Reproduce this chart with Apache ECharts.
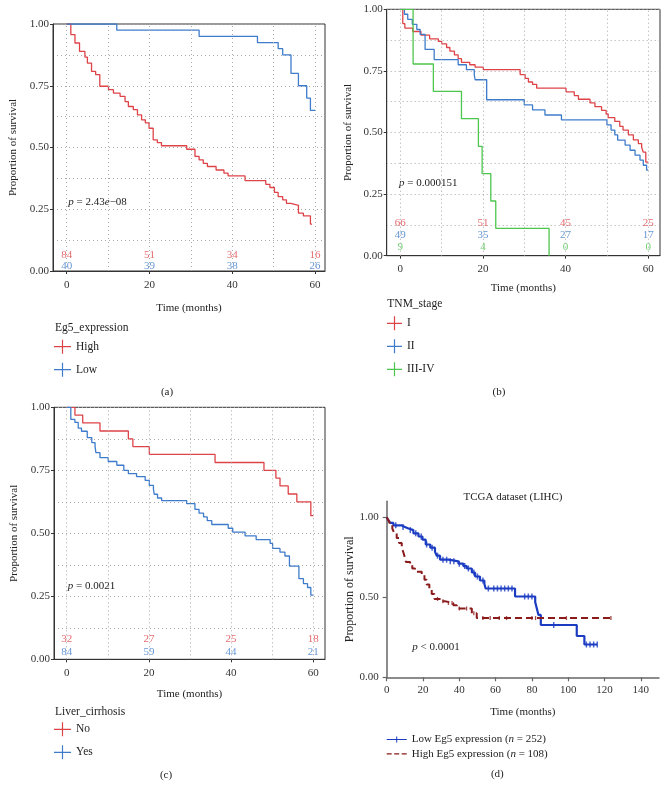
<!DOCTYPE html>
<html>
<head>
<meta charset="utf-8">
<script src="https://cdn.jsdelivr.net/npm/echarts@6/dist/echarts.min.js"></script>
<style>
html, body { margin: 0; padding: 0; background: #fff; }
#main { width: 669px; height: 796px; }
</style>
</head>
<body>
<div id="main"></div>
<script>
var FONT = '"Liberation Serif", "DejaVu Serif", serif';
var RED = '#de4348', BLUE = '#3e7ccb', GREEN = '#4cc64c';
var DRED = '#8b1a1a', DBLUE = '#1b3cc2';
var TXT = '#222';

// (a) Eg5 expression, [months, survival]
var aHigh = [[0,1],[1,0.957],[2,0.923],[3.1,0.889],[4.4,0.866],[5,0.842],[6,0.808],[7,0.795],[8,0.748],[10.1,0.734],[11.3,0.72],[12.9,0.707],[14.1,0.686],[14.9,0.666],[16.1,0.653],[17.1,0.632],[18.1,0.612],[19,0.6],[19.9,0.578],[20.9,0.531],[21.9,0.52],[22.9,0.507],[29,0.493],[31,0.464],[32,0.45],[33,0.436],[34,0.423],[36.1,0.409],[38,0.396],[39,0.385],[43.1,0.366],[48.1,0.351],[49.1,0.338],[50.2,0.318],[51.1,0.301],[52.2,0.288],[53.1,0.274],[54.2,0.266],[56,0.234],[57.2,0.223],[58.9,0.19],[59.3,0.19]];
var aLow = [[0,1],[12.1,0.975],[32,0.95],[46.1,0.925],[51.1,0.9],[52.2,0.875],[54.2,0.8],[56,0.75],[58,0.7],[58.9,0.65],[60,0.65]];
var aRiskHigh = [84, 51, 34, 16];
var aRiskLow = [40, 39, 38, 26];

// (b) TNM stage
var bI = [[0,1],[0.6,0.942],[1.1,0.924],[3,0.91],[5,0.895],[7.1,0.88],[9.2,0.87],[10,0.86],[11.2,0.845],[12,0.83],[13.1,0.815],[14,0.8],[14.8,0.785],[16.8,0.775],[18.1,0.765],[20.1,0.755],[29,0.735],[30.2,0.72],[31,0.705],[32,0.695],[33,0.68],[40.1,0.665],[42.1,0.65],[43.1,0.635],[45.9,0.62],[47.1,0.605],[48.7,0.59],[49.8,0.575],[50.3,0.56],[51.9,0.545],[53.1,0.525],[53.9,0.51],[55.2,0.49],[56.4,0.47],[57.6,0.455],[58.4,0.44],[58.8,0.42],[59.4,0.38],[60,0.38]];
var bII = [[0,1],[1,0.98],[1.8,0.959],[2.9,0.939],[4,0.918],[4.8,0.898],[6,0.837],[8.2,0.796],[14,0.775],[16,0.755],[17.9,0.735],[18.1,0.714],[20.9,0.633],[30,0.612],[32,0.592],[35,0.571],[39,0.551],[50,0.531],[51,0.51],[51.9,0.49],[52.6,0.469],[54.4,0.449],[55.6,0.428],[56.8,0.408],[58,0.388],[58.8,0.367],[59.6,0.347],[60,0.347]];
var bIII = [[0,1],[3.1,0.778],[8,0.667],[14.8,0.556],[18.9,0.444],[19.8,0.333],[21.9,0.222],[23.1,0.111],[36,0]];
var bRiskI = [66, 51, 45, 25];
var bRiskII = [49, 35, 27, 17];
var bRiskIII = [9, 4, 0, 0];

// (c) Liver cirrhosis
var cNo = [[0,1],[2,0.969],[3.9,0.938],[8.1,0.906],[15,0.875],[16.1,0.844],[20.1,0.813],[36.1,0.781],[48,0.75],[50.9,0.719],[51.9,0.688],[53.9,0.656],[56,0.625],[59.4,0.57],[60,0.57]];
var cYes = [[0,1],[1,0.952],[2,0.94],[2.8,0.917],[3.6,0.905],[5,0.88],[6.1,0.86],[6.9,0.845],[7.1,0.82],[8.1,0.8],[10.1,0.785],[12.2,0.77],[13.9,0.75],[15,0.737],[17,0.725],[19.1,0.71],[20.1,0.69],[21.1,0.675],[21.3,0.655],[22.1,0.64],[23.1,0.63],[29.2,0.618],[31.2,0.595],[32.2,0.58],[33.3,0.565],[34.2,0.55],[35.3,0.535],[39.3,0.52],[40.4,0.505],[43.4,0.49],[46.1,0.475],[49.5,0.46],[50.1,0.44],[51.9,0.425],[53.1,0.41],[54.2,0.37],[56.5,0.32],[57.6,0.3],[58.6,0.285],[59.4,0.255],[60,0.255]];
var cRiskNo = [32, 27, 25, 18];
var cRiskYes = [84, 59, 44, 21];

// (d) TCGA LIHC
var dLow = [[0,1],[1,0.98],[2,0.965],[3.7,0.95],[8,0.94],[10,0.93],[12,0.92],[14.7,0.9],[17.5,0.88],[19.7,0.86],[21.5,0.83],[24,0.81],[26.6,0.785],[27.5,0.76],[29.4,0.735],[34,0.725],[39.5,0.71],[42.2,0.695],[44.1,0.68],[46.9,0.655],[48.7,0.63],[51.4,0.605],[53.8,0.585],[54.5,0.555],[70.7,0.505],[81.8,0.47],[82.7,0.43],[83.6,0.39],[84.9,0.327],[104.7,0.258],[108.9,0.205],[116,0.205]];
var dHigh = [[0,1],[1,0.98],[1.8,0.96],[3.1,0.93],[4.2,0.9],[5.5,0.87],[6.8,0.84],[8.3,0.81],[9.2,0.78],[10,0.75],[10.6,0.72],[12.9,0.7],[14.1,0.68],[15.6,0.66],[19.3,0.64],[20.8,0.61],[22,0.58],[23.5,0.55],[24.8,0.52],[26.3,0.49],[29.4,0.475],[32,0.465],[36.7,0.45],[38.6,0.43],[46.9,0.4],[49.6,0.37],[123.5,0.37]];
var dLowCensor = [5,9,13,16,19,22,25,28,31,33,35,37,40,43,45,48,50,53,56,59,61,63,65,67,69,76,78,80,92,110,112,114,116];
var dHighCensor = [28,31,34,36,40,44,48,53,57,62,66,80,82,99,123.5];

var riskTimes = [0, 20, 40, 60];
var kmTicks = [0, 20, 40, 60];
var gridX = [0, 10, 20, 30, 40, 50, 60];
var dXTicks = [0, 20, 40, 60, 80, 100, 120, 140];
var dYTicks = [0, 0.5, 1];

function stepAt(curve, t) {
    var s = curve[0][1];
    for (var i = 0; i < curve.length; i++) if (curve[i][0] <= t) s = curve[i][1];
    return s;
}

function km(name, data, color, idx, extra) {
    var s = {
        name: name, type: 'line', step: 'end', data: data,
        xAxisIndex: idx, yAxisIndex: idx, symbol: 'none',
        lineStyle: { color: color, width: 1.3 }, itemStyle: { color: color },
        emphasis: { disabled: true }, z: 3
    };
    for (var k in extra) s[k] = extra[k];
    return s;
}

function risk(counts, yPos, color, idx) {
    return {
        type: 'scatter', xAxisIndex: idx, yAxisIndex: idx, symbolSize: 0, silent: true,
        data: riskTimes.map(function (t, i) { return [t, yPos, counts[i]]; }),
        label: { show: true, position: 'inside', formatter: function (p) { return p.value[2]; },
                 color: color, fontFamily: FONT, fontSize: 11 },
        z: 4
    };
}

function gridLines(idx) {
    return {
        type: 'line', xAxisIndex: idx, yAxisIndex: idx, data: [], silent: true, z: 1,
        markLine: { silent: true, symbol: 'none', label: { show: false }, animation: false,
                    lineStyle: { color: '#a8a8a8', type: [1, 3], width: 1 },
                    data: gridX.map(function (v) { return { xAxis: v }; }) }
    };
}

function censor(times, curve, color, idx, size) {
    return {
        type: 'scatter', xAxisIndex: idx, yAxisIndex: idx, symbol: 'rect', symbolSize: size,
        silent: true, itemStyle: { color: color }, z: 4,
        data: times.map(function (t) { return [t, stepAt(curve, t)]; })
    };
}

var axisText = { fontFamily: FONT, fontSize: 11, color: TXT };

function kmX(idx, min, max, gap, margin) {
    return {
        gridIndex: idx, type: 'value', min: min, max: max,
        name: 'Time (months)', nameLocation: 'middle', nameGap: gap, nameTextStyle: axisText,
        axisLine: { show: true, onZero: false, lineStyle: { color: '#333' } },
        axisTick: { show: true, length: 3, customValues: kmTicks, lineStyle: { color: '#333' } },
        axisLabel: { customValues: kmTicks, margin: margin, fontFamily: FONT, fontSize: 11, color: '#333' },
        splitLine: { show: false }
    };
}

function kmY(idx, gap) {
    return {
        gridIndex: idx, type: 'value', min: 0, max: 1, interval: 0.25,
        name: 'Proportion of survival', nameLocation: 'middle', nameGap: gap, nameRotate: 90,
        nameTextStyle: axisText,
        axisLine: { show: true, onZero: false, lineStyle: { color: '#333' } },
        axisTick: { show: true, length: 3, lineStyle: { color: '#333' } },
        axisLabel: { formatter: function (v) { return v.toFixed(2); }, margin: 4,
                     fontFamily: FONT, fontSize: 11, color: '#333' },
        splitLine: { show: true, lineStyle: { color: '#a8a8a8', type: [1, 3] } },
        minorTick: { show: false, splitNumber: 2 },
        minorSplitLine: { show: true, lineStyle: { color: '#a8a8a8', type: [1, 3] } }
    };
}

var CROSS = 'path://M0,6.4h17v1.2h-17z M7.9,0h1.2v14h-1.2z';
var CROSS_B = 'path://M0,6.4h15v1.2h-15z M6.9,0h1.2v14h-1.2z';

function kmLegend(names, left, top, icon, w) {
    return {
        data: names, left: left, top: top, orient: 'vertical', padding: 0,
        itemWidth: w, itemHeight: 14, itemGap: 9, icon: icon, selectedMode: false,
        textStyle: { fontFamily: FONT, fontSize: 11.5, color: TXT }
    };
}

function txt(x, y, text, align, extra) {
    var style = { x: 0, y: 0, text: text, fill: TXT, fontFamily: FONT, fontSize: 11,
                  align: align || 'left', verticalAlign: 'middle',
                  rich: { i: { fontStyle: 'italic', fontFamily: FONT, fontSize: 11, fill: TXT } } };
    for (var k in extra) style[k] = extra[k];
    return { type: 'text', x: x, y: y, silent: true, style: style };
}

var chart = echarts.init(document.getElementById('main'));

var option = {
    animation: false,
    backgroundColor: '#fff',
    grid: [
        { left: 53, top: 24, width: 272, height: 247, show: true, borderColor: '#333', borderWidth: 1 },
        { left: 386.7, top: 9.3, width: 273.3, height: 246.4, show: true, borderColor: '#333', borderWidth: 1 },
        { left: 54, top: 407.3, width: 271, height: 252, show: true, borderColor: '#333', borderWidth: 1 },
        { left: 386.7, top: 501.3, width: 272.3, height: 176 }
    ],
    xAxis: [
        kmX(0, -3.31, 62.42, 32, 9),
        kmX(1, -3.29, 62.84, 27, 8),
        kmX(2, -3.09, 62.85, 29, 8),
        {
            gridIndex: 3, type: 'value', min: 0, max: 150,
            name: 'Time (months)', nameLocation: 'middle', nameGap: 29, nameTextStyle: axisText,
            axisLine: { show: true, onZero: false, lineStyle: { color: '#666', width: 1.5 } },
            axisTick: { show: true, length: 4, customValues: dXTicks, lineStyle: { color: '#666', width: 1.2 } },
            axisLabel: { customValues: dXTicks, margin: 7, fontFamily: FONT, fontSize: 11, color: '#333' },
            splitLine: { show: false }
        }
    ],
    yAxis: [
        kmY(0, 34),
        kmY(1, 33),
        kmY(2, 34),
        {
            gridIndex: 3, type: 'value', min: 0, max: 1.1,
            name: 'Proportion of survival', nameLocation: 'middle', nameGap: 31, nameRotate: 90,
            nameTextStyle: { fontFamily: FONT, fontSize: 12, color: TXT },
            axisLine: { show: true, onZero: false, lineStyle: { color: '#666', width: 1.5 } },
            axisTick: { show: true, length: 4, customValues: dYTicks, lineStyle: { color: '#666', width: 1.2 } },
            axisLabel: { customValues: dYTicks, formatter: function (v) { return v.toFixed(2); },
                         margin: 8, fontFamily: FONT, fontSize: 11, color: '#333' },
            splitLine: { show: false }
        }
    ],
    legend: [
        kmLegend(['High', 'Low'], 54, 339.7, CROSS, 17),
        kmLegend(['I', 'II', 'III-IV'], 387, 316.3, CROSS_B, 15),
        kmLegend(['No', 'Yes'], 54, 722.3, CROSS, 17),
        {
            data: [
                { name: 'Low Eg5 expression (n = 252)', icon: 'path://M0,4.5h20v1h-20z M9.5,2h1v6h-1z' },
                { name: 'High Eg5 expression (n = 108)', icon: 'path://M0,4.5h5v1.2h-5z M7.5,4.5h5v1.2h-5z M15,4.5h5v1.2h-5z' }
            ],
            left: 386.7, top: 734, orient: 'vertical', padding: 0, itemWidth: 20, itemHeight: 10, itemGap: 3.3,
            selectedMode: false,
            formatter: function (name) { return name.replace('(n', '({i|n}'); },
            textStyle: { fontFamily: FONT, fontSize: 11, color: TXT,
                         rich: { i: { fontStyle: 'italic', fontFamily: FONT, fontSize: 11, color: TXT } } }
        }
    ],
    series: [
        gridLines(0), gridLines(1), gridLines(2),
        km('High', aHigh, RED, 0),
        km('Low', aLow, BLUE, 0),
        risk(aRiskHigh, 0.064, RED, 0),
        risk(aRiskLow, 0.0215, BLUE, 0),

        km('I', bI, RED, 1),
        km('II', bII, BLUE, 1),
        km('III-IV', bIII, GREEN, 1),
        risk(bRiskI, 0.134, RED, 1),
        risk(bRiskII, 0.084, BLUE, 1),
        risk(bRiskIII, 0.034, GREEN, 1),

        km('No', cNo, RED, 2),
        km('Yes', cYes, BLUE, 2),
        risk(cRiskNo, 0.079, RED, 2),
        risk(cRiskYes, 0.028, BLUE, 2),

        km('Low Eg5 expression (n = 252)', dLow, DBLUE, 3, { lineStyle: { color: DBLUE, width: 2.2 } }),
        km('High Eg5 expression (n = 108)', dHigh, DRED, 3, { lineStyle: { color: DRED, width: 2, type: [7, 4] } }),
        censor(dLowCensor, dLow, DBLUE, 3, [1.5, 6]),
        censor(dHighCensor, dHigh, DRED, 3, [1.3, 4])
    ],
    graphic: [
        txt(68.3, 201.7, '{i|p} = 2.43{i|e}\u221208'),
        txt(399, 183.3, '{i|p} = 0.000151'),
        txt(67.7, 585.7, '{i|p} = 0.0021'),
        txt(412.3, 647.3, '{i|p} < 0.0001'),
        txt(513, 496.7, 'TCGA dataset (LIHC)', 'center'),
        txt(55, 327.7, 'Eg5_expression', 'left', { fontSize: 11.5 }),
        txt(387.3, 304.3, 'TNM_stage', 'left', { fontSize: 11.5 }),
        txt(55, 712.3, 'Liver_cirrhosis', 'left', { fontSize: 11.5 }),
        txt(167, 391.7, '(a)', 'center'),
        txt(499, 391.7, '(b)', 'center'),
        txt(166, 775, '(c)', 'center'),
        txt(497.3, 774.3, '(d)', 'center')
    ]
};

chart.setOption(option);
window.addEventListener('resize', function () { chart.resize(); });
</script>
</body>
</html>
